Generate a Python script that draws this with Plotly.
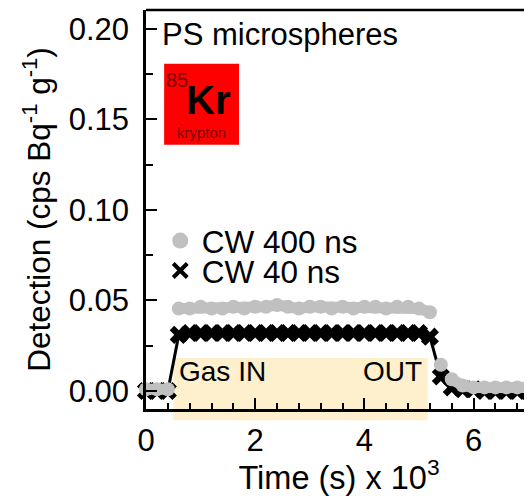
import plotly.graph_objects as go

time_ks = [0.0,0.2,0.4,0.6,0.8,1.0,1.2,1.4,1.6,1.8,2.0,2.2,2.4,2.6,2.8,3.0,3.2,3.4,3.6,3.8,4.0,4.2,4.4,4.6,4.8,5.0,5.2,5.4,5.6,5.8,6.0,6.2,6.4,6.6,6.8,7.0]
cw_40 = [0.0,0.0,0.0,0.031,0.032,0.032,0.032,0.032,0.032,0.032,0.032,0.032,0.032,0.032,0.032,0.032,0.032,0.032,0.032,0.032,0.032,0.032,0.032,0.032,0.032,0.032,0.030,0.008,0.002,0.001,0.001,0.0,0.0,0.0,0.0,0.0]
# None marks the jumps, where the grey series has no connecting band
time_grey = [0.0,0.2,0.4,None,0.6,0.8,1.0,1.2,1.4,1.6,1.8,2.0,2.2,2.4,2.6,2.8,3.0,3.2,3.4,3.6,3.8,4.0,4.2,4.4,4.6,4.8,5.0,5.2,None,5.4,None,5.6,5.8,6.0,6.2,6.4,6.6,6.8,7.0]
cw_400 = [0.001,0.001,0.001,None,0.0455,0.0455,0.0465,0.0455,0.0455,0.0465,0.0455,0.0465,0.0465,0.0475,0.0465,0.0455,0.0465,0.0465,0.0455,0.0465,0.0455,0.0465,0.0465,0.0455,0.0465,0.0465,0.0455,0.0435,None,0.0145,None,0.0065,0.003,0.002,0.002,0.002,0.002,0.002,0.002]
series_names = ["CW 400 ns", "CW 40 ns"]
gas_window = [0.5, 5.16]
FONT = "Liberation Sans"

fig = go.Figure()
fig.add_trace(go.Scatter(x=time_ks, y=cw_40, mode="lines+markers", showlegend=False, cliponaxis=False,
    line=dict(color="black", width=3), marker=dict(symbol="x", size=16, color="black")))
fig.add_trace(go.Scatter(x=time_grey, y=cw_400, mode="lines+markers", showlegend=False, cliponaxis=False,
    line=dict(color="#c0c0c0", width=11), marker=dict(symbol="circle", size=14, color="#c0c0c0")))
fig.add_trace(go.Scatter(x=[None], y=[None], mode="markers", name=series_names[0], legend="legend",
    marker=dict(symbol="circle", size=18, color="#c0c0c0")))
fig.add_trace(go.Scatter(x=[None], y=[None], mode="markers", name=series_names[1], legend="legend2",
    marker=dict(symbol="x-thin", size=14, color="black", line=dict(color="black", width=4))))

axis = dict(showgrid=False, zeroline=False, showline=True, linecolor="black", linewidth=2.5,
            ticks="inside", tickcolor="black", tickwidth=2, ticklen=11,
            tickfont=dict(family=FONT, size=31, color="black"))
fig.update_xaxes(**axis, range=[0, 7.07], tick0=0, dtick=2, ticklabelstandoff=2,
    minor=dict(ticks="inside", dtick=0.4, tick0=0, ticklen=6, tickwidth=2, tickcolor="black"),
    title=dict(text="\u00a0Time (s) x 10<sup>3</sup>", font=dict(family=FONT, size=32.5, color="black"), standoff=9))
fig.update_yaxes(**axis, range=[-0.00993, 0.2103], tick0=0, dtick=0.05, tickformat=".2f", ticklabelstandoff=8,
    minor=dict(ticks="inside", dtick=0.025, tick0=0, ticklen=7, tickwidth=2, tickcolor="black"),
    title=dict(text="Detection (cps Bq<sup>-1</sup> g<sup>-1</sup>)\u00a0\u00a0", font=dict(family=FONT, size=31.5, color="black"), standoff=9))

shapes = [
    dict(type="rect", layer="below", xref="x", yref="paper", x0=gas_window[0], x1=gas_window[1], y0=-0.028, y1=0.128,
         fillcolor="#fff0cd", line_width=0),
    dict(type="line", xref="paper", yref="paper", x0=0, x1=1, y0=1, y1=1, line=dict(color="black", width=2.5)),
    dict(type="rect", xref="paper", yref="paper", x0=0.047, x1=0.241, y0=0.662, y1=0.865, fillcolor="#ff0000", line_width=0, layer="below"),
]
def note(x, y, text, size, bold=False, anchor="left", color="black"):
    return dict(xref="paper", yref="paper", x=x, y=y, text=f"<b>{text}</b>" if bold else text, showarrow=False,
                xanchor=anchor, yanchor="middle", font=dict(family=FONT, size=size, color=color))
annotations = [
    note(0.036, 0.938, "PS microspheres", 31),
    note(0.047, 0.825, "85", 20, color="#800000"),
    note(0.098, 0.775, "Kr", 40, True),
    note(0.144, 0.692, "krypton", 15, anchor="center", color="#800000"),
    note(0.080, 0.093, "Gas IN", 28),
    note(0.558, 0.093, "OUT", 28),
]
leg = dict(xanchor="left", yanchor="middle", bgcolor="rgba(0,0,0,0)", itemwidth=33, font=dict(family=FONT, size=31.5, color="black"))
fig.update_layout(width=524, height=488, margin=dict(l=138, r=0, t=2, b=87), autosize=False,
    paper_bgcolor="white", plot_bgcolor="white", shapes=shapes, annotations=annotations,
    font=dict(family=FONT, color="black"),
    legend=dict(x=0.033, y=0.422, **leg), legend2=dict(x=0.033, y=0.347, **leg))
fig.write_html("out.html")
